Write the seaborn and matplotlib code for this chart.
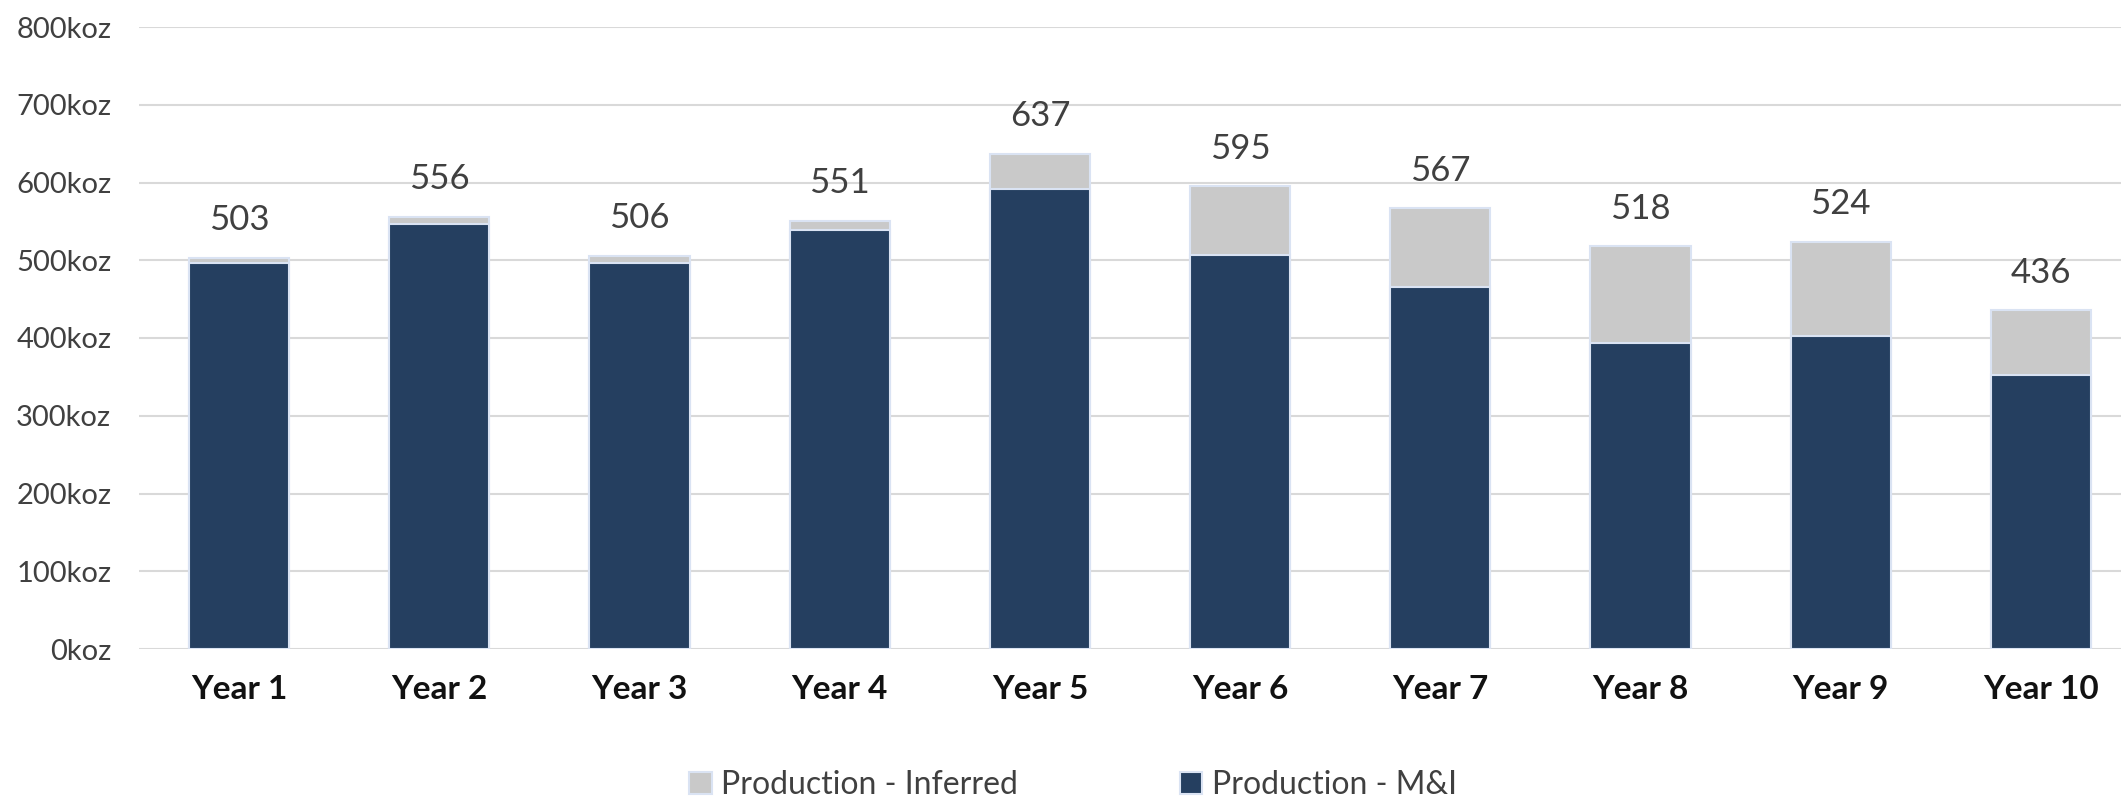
import matplotlib
matplotlib.use("Agg")
import matplotlib.pyplot as plt
from matplotlib.patches import Patch
import seaborn as sns
import pandas as pd

years = ["Year 1", "Year 2", "Year 3", "Year 4", "Year 5",
         "Year 6", "Year 7", "Year 8", "Year 9", "Year 10"]
total_koz = [503, 556, 506, 551, 637, 595, 567, 518, 524, 436]
mi_koz = [496, 546, 496, 539, 592, 507, 466, 394, 402, 353]
inferred_koz = [t - m for t, m in zip(total_koz, mi_koz)]
y_ticks = [0, 100, 200, 300, 400, 500, 600, 700, 800]
legend_labels = ["Production - Inferred", "Production - M&I"]

NAVY = "#253F60"
GRAY = "#C9C9C9"
EDGE = "#DAE3F3"
TXT = "#404040"

sns.set_theme(style="white")
plt.rcParams["font.family"] = ["Lato", "DejaVu Sans"]

df = pd.DataFrame({"year": years, "total": total_koz, "mi": mi_koz,
                   "inferred": inferred_koz})

fig = plt.figure(figsize=(21.21, 8.01), dpi=100)
ax = fig.add_axes([139 / 2121, 1 - 649 / 801, 1 - 139 / 2121, (649 - 27) / 801])

sns.barplot(data=df, x="year", y="total", order=years, color=GRAY,
            width=0.5, saturation=1, edgecolor=EDGE, linewidth=1.5, ax=ax,
            zorder=3)
sns.barplot(data=df, x="year", y="mi", order=years, color=NAVY,
            width=0.5, saturation=1, edgecolor=EDGE, linewidth=1.5, ax=ax,
            zorder=4)

ax.set_xlim(-0.5, 9.4)
ax.set_ylim(0, 800)
ax.set_yticks(y_ticks)
ax.set_yticklabels([f"{v}koz" for v in y_ticks], color=TXT, fontsize=21)
ax.grid(axis="y", color="#D9D9D9", linewidth=1.5, zorder=0)
ax.set_axisbelow(True)
for s in ax.spines.values():
    s.set_visible(False)
ax.set_xlabel("")
ax.set_ylabel("")
ax.tick_params(axis="y", length=0, pad=20)
ax.tick_params(axis="x", length=0, pad=19)
for lbl in ax.get_xticklabels():
    lbl.set_fontweight("bold")
    lbl.set_fontsize(24)
    lbl.set_color("#111111")

for i, t in enumerate(total_koz):
    ax.annotate(f"{t}", xy=(i, t), xytext=(0, 27), textcoords="offset points",
                ha="center", va="center", fontsize=25, color=TXT)

handles = [Patch(facecolor=GRAY, edgecolor=EDGE, linewidth=1.5),
           Patch(facecolor=NAVY, edgecolor=EDGE, linewidth=1.5)]
fig.legend(handles, legend_labels, loc="center",
           bbox_to_anchor=(1073 / 2121, 1 - 785 / 801), ncol=2, frameon=False,
           fontsize=23, handlelength=0.7, handleheight=0.7, handletextpad=0.3,
           columnspacing=5.05, labelcolor=TXT)

fig.savefig("out.png", dpi=100)
